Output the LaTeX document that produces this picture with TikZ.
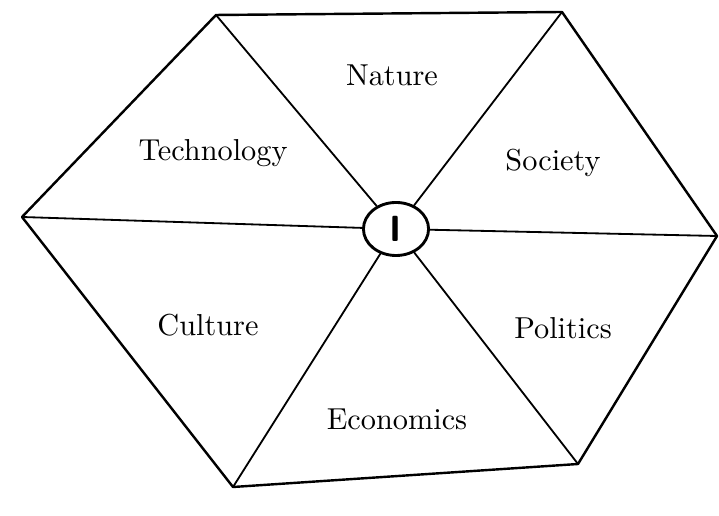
\documentclass[tikz,border=0pt]{standalone}
\usepackage{tikz}
\usetikzlibrary{calc}
\usetikzlibrary{positioning}
\usetikzlibrary{shapes.geometric}
\tikzset{
    rim/.style={draw, line width=0.8pt, line join=round, line cap=round},
    spoke/.style={draw, line width=0.6pt, line cap=round},
    hub/.style={draw, ellipse, line width=0.95pt, minimum width=21.5pt, minimum height=17.5pt, inner sep=0pt, font=\sffamily\bfseries\large},
    topic/.style={font=\normalsize},
}
\begin{document}
\begin{tikzpicture}[x=0.33pt, y=-0.33pt]
    \useasboundingbox (0,0) rectangle (719,516);
    % corners of the hexagon
    \coordinate (tl) at (216,15);
    \coordinate (tr) at (562,12);
    \coordinate (r) at (717,236);
    \coordinate (br) at (578,464);
    \coordinate (bl) at (233,487);
    \coordinate (l) at (22,217);
    \node[hub] (me) at (396,229) {I};
    \path[rim] (tl) -- (tr) -- (r) -- (br) -- (bl) -- (l) -- cycle;
    \foreach \corner in {tl,tr,r,br,bl,l}
        \path[spoke] (me) -- (\corner);
    \path
        node[topic] (nature) at (392,75) {Nature}
        node[topic] (technology) at (213,153) {Technology}
        node[topic] (society) at (553,163) {Society}
        node[topic] (culture) at (208,325) {Culture}
        node[topic] (politics) at (563,328) {Politics}
        node[topic] (economics) at (397,419) {Economics};
\end{tikzpicture}
\end{document}
